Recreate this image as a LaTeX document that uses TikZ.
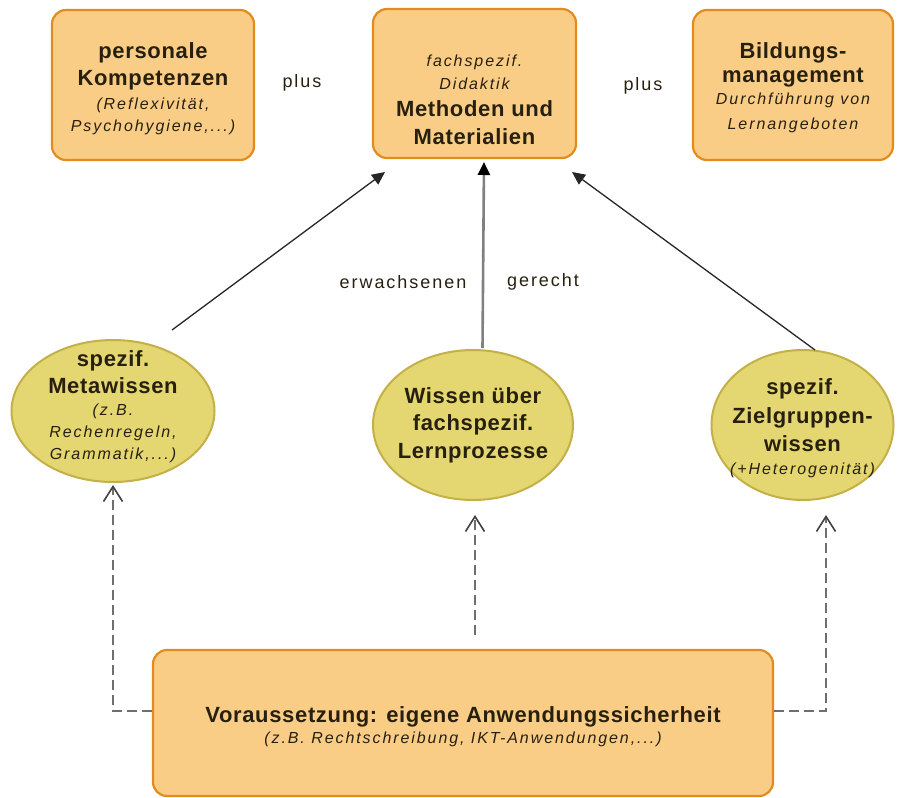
\documentclass[tikz,border=0pt]{standalone}
\usepackage{fontspec}
\setmainfont{Liberation Sans}
\newfontfamily\bfam{Liberation Sans}[LetterSpace=3]
\newfontfamily\ifam{Liberation Sans}[LetterSpace=12]
\newfontfamily\rfam{Liberation Sans}[LetterSpace=11]
\newcommand\BoldT[1]{{\bfam\bfseries\fontsize{22}{22}\selectfont #1}}
\newcommand\ItT[1]{{\ifam\itshape\fontsize{16}{22}\selectfont #1}}
\usetikzlibrary{arrows.meta,shapes.geometric}
\definecolor{boxfill}{RGB}{250,205,135}
\definecolor{boxline}{RGB}{226,140,30}
\definecolor{ellfill}{RGB}{228,214,112}
\definecolor{ellline}{RGB}{196,176,72}
\definecolor{txtdark}{RGB}{40,32,15}
\definecolor{midgray}{RGB}{128,128,128}
\definecolor{dashgray}{RGB}{110,110,110}
\tikzset{
  box/.style={draw=boxline, line width=2.2pt, fill=boxfill, rounded corners=14pt, inner sep=0pt},
  ell/.style={ellipse, draw=ellline, line width=2pt, fill=ellfill, inner sep=0pt},
  txt/.style={align=center, text=txtdark, inner sep=0pt, font=\fontsize{16}{22}\selectfont},
  lbl/.style={text=txtdark, inner sep=0pt, font=\rfam\fontsize{18}{18}\selectfont},
  solidarr/.style={draw=black!85, line width=1.3pt, -{Triangle[length=13pt,width=12pt]}},
  midarr/.style={draw=midgray, line width=2.6pt, -{Triangle[length=13pt,width=12pt,color=black]}},
  dasharr/.style={draw=dashgray, line width=2.6pt, dash pattern=on 10pt off 5pt, -{Straight Barb[length=15pt,width=19pt,line width=1.6pt,color=black!75]}}
}
\begin{document}
\begin{tikzpicture}[x=1pt,y=-1pt]
\useasboundingbox (0,0) rectangle (908,798);
% top boxes
\node[box, minimum width=202pt, minimum height=150pt] (pers) at (153,85) {};
\node[txt] (persT) at (153,89) {\BoldT{personale}\\[5pt]\BoldT{Kompetenzen}\\[2pt]\ItT{(Reflexivität,}\\\ItT{Psychohygiene,...)}};
\node[box, minimum width=203pt, minimum height=149pt] (meth) at (474.5,83.5) {};
\node[txt] (methT) at (474.5,100) {\ItT{fachspezif.}\\[1pt]\ItT{Didaktik}\\[5pt]\BoldT{Methoden und}\\[6pt]\BoldT{Materialien}};
\node[box, minimum width=200pt, minimum height=150pt] (bild) at (793,85) {};
\node[txt] (bildT) at (793,88) {\BoldT{Bildungs-}\\[2pt]\BoldT{management}\\[0pt]\ItT{Durchführung von}\\[3pt]\ItT{Lernangeboten}};
\node[lbl] (plus1) at (302,83) {plus};
\node[lbl] (plus2) at (643,86) {plus};
% ellipses
\node[ell, minimum width=203pt, minimum height=142pt] (meta) at (113,411) {};
\node[txt] (metaT) at (113,407) {\BoldT{spezif.}\\[5pt]\BoldT{Metawissen}\\[0pt]\ItT{(z.B.}\\\ItT{Rechenregeln,}\\\ItT{Grammatik,...)}};
\node[ell, minimum width=200pt, minimum height=150pt] (wiss) at (473,425) {};
\node[txt] (wissT) at (473,425) {\BoldT{Wissen über}\\[5pt]\BoldT{fachspezif.}\\[6pt]\BoldT{Lernprozesse}};
\node[ell, minimum width=182pt, minimum height=150pt] (ziel) at (802.5,425) {};
\node[txt] (zielT) at (802.5,428) {\BoldT{spezif.}\\[7pt]\BoldT{Zielgruppen-}\\[6pt]\BoldT{wissen}\\[1pt]\ItT{(+Heterogenität)}};
% bottom box
\node[box, minimum width=620pt, minimum height=146pt] (pre) at (463,723) {};
\node[txt] (preT) at (463,727) {\BoldT{Voraussetzung: eigene Anwendungssicherheit}\\[-1pt]\ItT{(z.B. Rechtschreibung, IKT-Anwendungen,...)}};
% labels
\node[lbl] (erw) at (403,282) {erwachsenen};
\node[lbl] (ger) at (543,282) {gerecht};
% solid arrows
\draw[solidarr] ([shift={(59,-81)}]meta.center) -- ([shift={(-89.5,88.5)}]meth.center);
\draw[midarr] ([shift={(9.5,-77)}]wiss.center) -- ([shift={(9.5,78.5)}]meth.center);
\draw[solidarr] ([shift={(12.5,-75)}]ziel.center) -- ([shift={(97.5,88.5)}]meth.center);
% dashed arrows
\draw[dasharr] ([shift={(0,-12)}]pre.west) -| ([shift={(0,74)}]meta.center);
\draw[dasharr] ([shift={(12,-88)}]pre.center) -- ([shift={(2,90)}]wiss.center);
\draw[dasharr] ([shift={(0,-12)}]pre.east) -| ([shift={(23.5,90)}]ziel.center);
\end{tikzpicture}
\end{document}
